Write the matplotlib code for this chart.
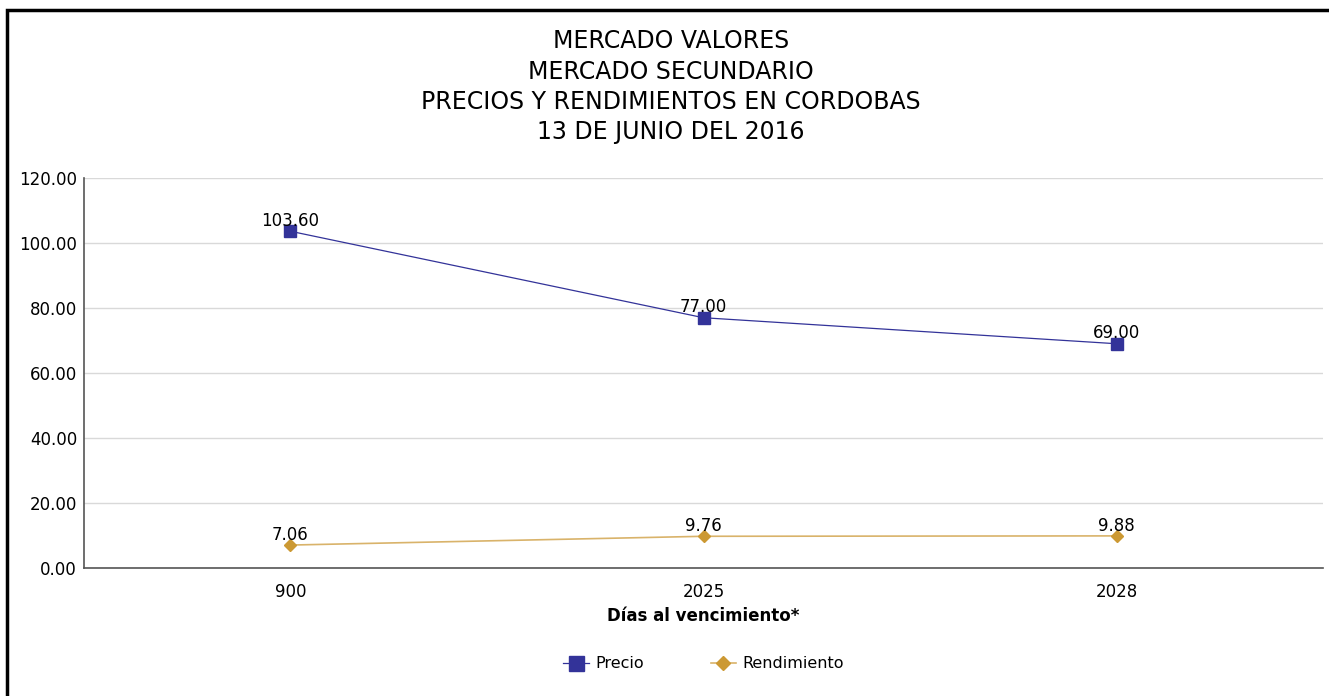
from matplotlib import pyplot as plt
from matplotlib.patches import Rectangle

# datos
dias = ['900', '2025', '2028']
precio = [103.60, 77.00, 69.00]
rendimiento = [7.06, 9.76, 9.88]
titulo = 'MERCADO VALORES\nMERCADO SECUNDARIO\nPRECIOS Y RENDIMIENTOS EN CORDOBAS\n13 DE JUNIO DEL 2016'

plt.rcParams['font.family'] = 'DejaVu Sans'

fig = plt.figure(figsize=(13.29, 6.96), dpi=100)
ax = fig.add_axes([0.0632, 0.1839, 0.9323, 0.5604])

x = range(len(dias))
ax.plot(x, precio, color='#333399', lw=0.9, marker='s', markersize=9, label='Precio')
ax.plot(x, rendimiento, color='#D9B36A', lw=1.2, marker='D', markersize=6,
        markerfacecolor='#CC9933', markeredgecolor='#CC9933', label='Rendimiento')

for i, v in enumerate(precio):
    ax.annotate('%.2f' % v, (i, v), xytext=(0, 1), textcoords='offset points',
                ha='center', va='bottom', fontsize=12)
for i, v in enumerate(rendimiento):
    ax.annotate('%.2f' % v, (i, v), xytext=(0, 1), textcoords='offset points',
                ha='center', va='bottom', fontsize=12)

ax.set_xlim(-0.5, 2.5)
ax.set_ylim(0, 120)
ax.set_yticks(range(0, 121, 20))
ax.set_yticklabels(['%.2f' % t for t in range(0, 121, 20)], fontsize=12)
ax.set_xticks(list(x))
ax.set_xticklabels(dias, fontsize=12)
ax.tick_params(axis='y', length=0, pad=5)
ax.tick_params(axis='x', length=0, pad=11)
ax.grid(axis='y', color='#d9d9d9', lw=1)
ax.set_axisbelow(True)
for s in ['top', 'right']:
    ax.spines[s].set_visible(False)
for s in ['left', 'bottom']:
    ax.spines[s].set_color('#555555')
    ax.spines[s].set_linewidth(1.2)
ax.set_xlabel('Días al vencimiento*', fontsize=12, fontweight='bold', labelpad=4)

fig.text(0.505, 0.958, titulo, ha='center', va='top', fontsize=17, linespacing=1.33)

ax.legend(loc='upper center', bbox_to_anchor=(0.5, -0.19), ncol=2, frameon=False,
          fontsize=11.5, handlelength=1.6, columnspacing=4.2, handletextpad=0.4,
          markerscale=1.2)

fig.patches.append(Rectangle((7 / 1329, -0.05), 1.2, 0.05 + (696 - 10) / 696,
                             transform=fig.transFigure, fill=False, ec='black', lw=2.5))

fig.savefig('out.png', dpi=100)
